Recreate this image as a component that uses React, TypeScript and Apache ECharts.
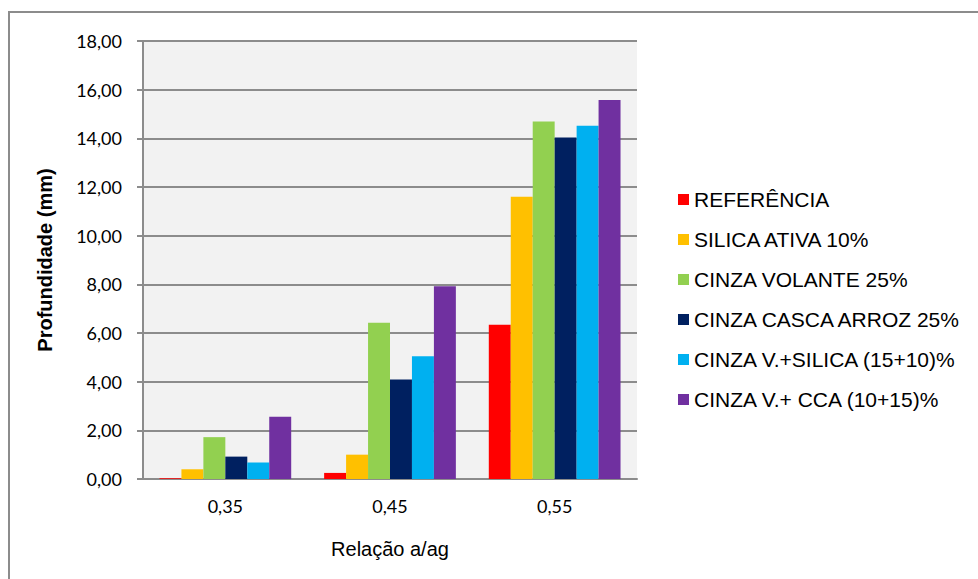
import React, { useEffect, useRef } from "react";
import * as echarts from "echarts";

const categories = ["0,35", "0,45", "0,55"];
const seriesNames = [
  "REFERÊNCIA",
  "SILICA ATIVA 10%",
  "CINZA VOLANTE 25%",
  "CINZA CASCA ARROZ 25%",
  "CINZA V.+SILICA (15+10)%",
  "CINZA V.+ CCA (10+15)%",
];
const referencia = [0.03, 0.25, 6.34];
const silicaAtiva = [0.4, 1.0, 11.6];
const cinzaVolante = [1.72, 6.42, 14.69];
const cinzaCasca = [0.92, 4.09, 14.03];
const cinzaVSilica = [0.68, 5.04, 14.52];
const cinzaVCCA = [2.56, 7.92, 15.58];
const colors = ["#FF0000", "#FFC000", "#92D050", "#002060", "#00B0F0", "#7030A0"];

const yTickValues = [0, 2, 4, 6, 8, 10, 12, 14, 16, 18];

export default function App() {
  const ref = useRef<HTMLDivElement>(null);
  useEffect(() => {
    if (!ref.current) return;
    const chart = echarts.init(ref.current, null, { renderer: "svg" });
    const data = [referencia, silicaAtiva, cinzaVolante, cinzaCasca, cinzaVSilica, cinzaVCCA];
    chart.setOption({
      animation: false,
      backgroundColor: "#ffffff",
      graphic: [
        {
          type: "rect",
          shape: { x: 9, y: 12, width: 1100, height: 700 },
          style: { fill: "none", stroke: "#8c8c8c", lineWidth: 2 },
          silent: true,
        },
      ],
      grid: {
        left: 143,
        right: 341,
        top: 41,
        bottom: 100,
        show: true,
        backgroundColor: "#F2F2F2",
        borderWidth: 0,
      },
      legend: {
        orient: "vertical",
        left: 678,
        top: 189,
        padding: 0,
        icon: "rect",
        itemWidth: 11,
        itemHeight: 11,
        itemGap: 19,
        selectedMode: false,
        textStyle: {
          fontFamily: "Liberation Sans, Arial, sans-serif",
          fontSize: 21,
          lineHeight: 21,
          color: "#000000",
          padding: [0, 0, 0, 0],
        },
        data: seriesNames,
      },
      xAxis: {
        type: "category",
        data: categories,
        name: "Relação a/ag",
        nameLocation: "middle",
        nameGap: 60,
        nameTextStyle: {
          fontFamily: "Liberation Sans, Arial, sans-serif",
          fontSize: 20,
          color: "#000000",
        },
        axisLine: { show: true, lineStyle: { color: "#8c8c8c", width: 2 } },
        axisTick: { show: false },
        axisLabel: {
          fontFamily: "Lato, sans-serif",
          fontSize: 18,
          color: "#000000",
          margin: 18,
        },
      },
      yAxis: {
        type: "value",
        min: 0,
        max: 18,
        interval: 2,
        name: "Profundidade (mm)",
        nameLocation: "middle",
        nameGap: 88,
        nameTextStyle: {
          fontFamily: "Liberation Sans, Arial, sans-serif",
          fontSize: 20,
          fontWeight: "bold",
          color: "#000000",
        },
        axisLine: { show: true, lineStyle: { color: "#8c8c8c", width: 2 } },
        axisTick: { show: true, length: 6, lineStyle: { color: "#8c8c8c", width: 2 } },
        splitLine: { show: true, lineStyle: { color: "#8c8c8c", width: 2 } },
        axisLabel: {
          fontFamily: "Lato, sans-serif",
          fontSize: 18,
          color: "#000000",
          margin: 21,
          formatter: (v: number) =>
            yTickValues.includes(v) ? v.toFixed(2).replace(".", ",") : "",
        },
      },
      series: seriesNames.map((name, i) => ({
        name,
        type: "bar",
        data: data[i],
        barGap: "0%",
        barCategoryGap: "20%",
        itemStyle: { color: colors[i] },
      })),
    });
    return () => chart.dispose();
  }, []);
  return <div ref={ref} style={{ width: 978, height: 579, position: "absolute", left: 0, top: 0 }} />;
}
